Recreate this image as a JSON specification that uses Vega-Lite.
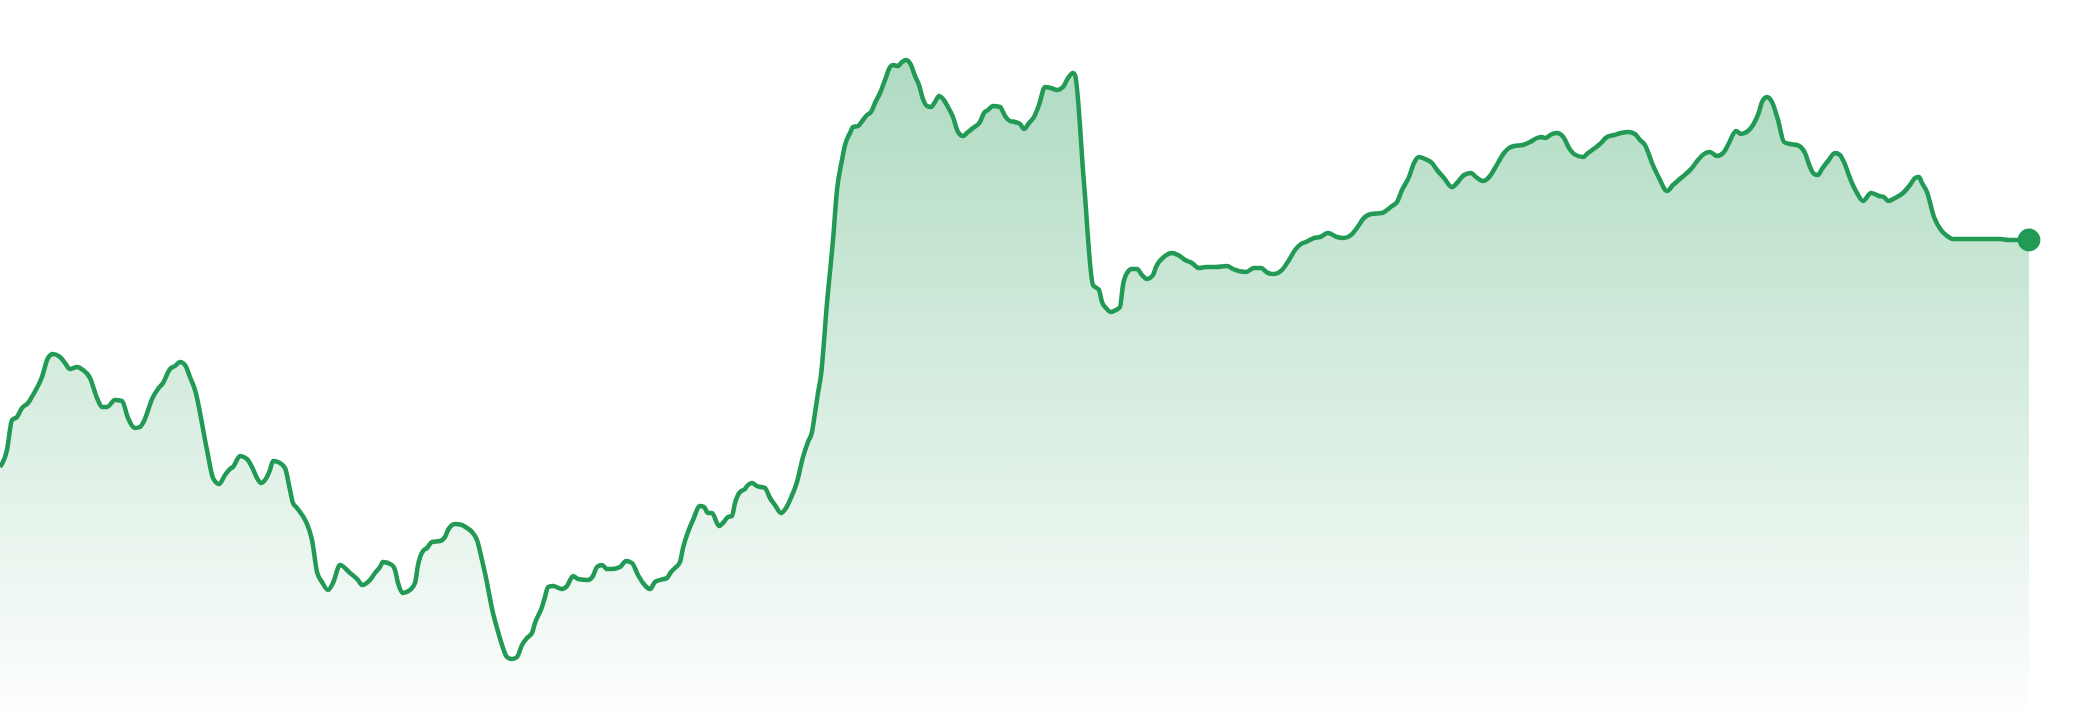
{
  "$schema": "https://vega.github.io/schema/vega-lite/v6.json",
  "width": 2029,
  "height": 707,
  "autosize": {"type": "none"},
  "padding": {"left": 0, "top": 0, "right": 51, "bottom": 13},
  "background": "white",
  "config": {"view": {"stroke": null}},
  "data": {
    "values": [
      {"t": 0, "v": 24.0}, {"t": 7, "v": 25.7}, {"t": 12, "v": 28.7}, {"t": 17, "v": 29.0},
      {"t": 22, "v": 29.9}, {"t": 28, "v": 30.4}, {"t": 33, "v": 31.2}, {"t": 42, "v": 33.0},
      {"t": 48, "v": 34.9}, {"t": 53, "v": 35.3}, {"t": 60, "v": 35.0}, {"t": 65, "v": 34.4},
      {"t": 70, "v": 33.8}, {"t": 77, "v": 34.0}, {"t": 83, "v": 33.7}, {"t": 90, "v": 32.9},
      {"t": 97, "v": 30.9}, {"t": 102, "v": 30.0}, {"t": 107, "v": 30.0}, {"t": 115, "v": 30.7},
      {"t": 122, "v": 30.6}, {"t": 128, "v": 28.9}, {"t": 135, "v": 27.9}, {"t": 140, "v": 28.0},
      {"t": 143, "v": 28.4}, {"t": 153, "v": 31.0}, {"t": 158, "v": 31.8}, {"t": 163, "v": 32.4},
      {"t": 170, "v": 33.8}, {"t": 175, "v": 34.1}, {"t": 180, "v": 34.5}, {"t": 185, "v": 34.2},
      {"t": 190, "v": 33.0}, {"t": 195, "v": 31.7}, {"t": 207, "v": 25.7}, {"t": 213, "v": 22.9},
      {"t": 219, "v": 22.3}, {"t": 225, "v": 23.2}, {"t": 230, "v": 23.8}, {"t": 233, "v": 24.0},
      {"t": 240, "v": 25.1}, {"t": 247, "v": 24.8}, {"t": 252, "v": 24.0}, {"t": 257, "v": 22.9},
      {"t": 261, "v": 22.4}, {"t": 265, "v": 22.7}, {"t": 270, "v": 23.7}, {"t": 273, "v": 24.6},
      {"t": 278, "v": 24.5}, {"t": 285, "v": 23.9}, {"t": 290, "v": 21.7}, {"t": 293, "v": 20.4},
      {"t": 297, "v": 19.9}, {"t": 312, "v": 16.7}, {"t": 317, "v": 13.5}, {"t": 322, "v": 12.5},
      {"t": 328, "v": 11.7}, {"t": 333, "v": 12.4}, {"t": 340, "v": 14.2}, {"t": 350, "v": 13.4},
      {"t": 358, "v": 12.7}, {"t": 362, "v": 12.2}, {"t": 370, "v": 12.7}, {"t": 375, "v": 13.4},
      {"t": 380, "v": 14.0}, {"t": 383, "v": 14.5}, {"t": 392, "v": 14.2}, {"t": 395, "v": 13.7},
      {"t": 398, "v": 12.4}, {"t": 403, "v": 11.4}, {"t": 410, "v": 11.7}, {"t": 415, "v": 12.4},
      {"t": 418, "v": 14.2}, {"t": 423, "v": 15.6}, {"t": 427, "v": 15.9}, {"t": 432, "v": 16.5},
      {"t": 440, "v": 16.6}, {"t": 445, "v": 17.0}, {"t": 448, "v": 17.7}, {"t": 455, "v": 18.3},
      {"t": 462, "v": 18.2}, {"t": 467, "v": 17.9}, {"t": 472, "v": 17.5}, {"t": 477, "v": 16.7},
      {"t": 482, "v": 14.7}, {"t": 485, "v": 13.4}, {"t": 493, "v": 9.4}, {"t": 497, "v": 7.9},
      {"t": 502, "v": 6.2}, {"t": 507, "v": 5.0}, {"t": 512, "v": 4.8}, {"t": 517, "v": 5.0},
      {"t": 522, "v": 6.2}, {"t": 527, "v": 6.9}, {"t": 532, "v": 7.4}, {"t": 535, "v": 8.4},
      {"t": 542, "v": 10.0}, {"t": 545, "v": 11.0}, {"t": 548, "v": 12.0}, {"t": 553, "v": 12.1},
      {"t": 562, "v": 11.8}, {"t": 567, "v": 12.1}, {"t": 573, "v": 13.1}, {"t": 578, "v": 12.8},
      {"t": 588, "v": 12.7}, {"t": 593, "v": 13.1}, {"t": 597, "v": 14.0}, {"t": 602, "v": 14.2},
      {"t": 607, "v": 13.8}, {"t": 612, "v": 13.8}, {"t": 620, "v": 14.0}, {"t": 626, "v": 14.6},
      {"t": 632, "v": 14.4}, {"t": 638, "v": 13.2}, {"t": 643, "v": 12.4}, {"t": 650, "v": 11.8},
      {"t": 655, "v": 12.5}, {"t": 660, "v": 12.7}, {"t": 667, "v": 12.9}, {"t": 671, "v": 13.5},
      {"t": 675, "v": 13.9}, {"t": 680, "v": 14.5}, {"t": 683, "v": 15.9}, {"t": 688, "v": 17.5},
      {"t": 693, "v": 18.7}, {"t": 700, "v": 20.1}, {"t": 704, "v": 20.0}, {"t": 708, "v": 19.4},
      {"t": 712, "v": 19.4}, {"t": 719, "v": 18.1}, {"t": 723, "v": 18.4}, {"t": 728, "v": 19.0},
      {"t": 732, "v": 19.1}, {"t": 735, "v": 20.4}, {"t": 740, "v": 21.5}, {"t": 745, "v": 21.8},
      {"t": 748, "v": 22.2}, {"t": 752, "v": 22.4}, {"t": 757, "v": 22.1}, {"t": 765, "v": 21.9},
      {"t": 770, "v": 20.9}, {"t": 775, "v": 20.2}, {"t": 781, "v": 19.4}, {"t": 786, "v": 19.9},
      {"t": 790, "v": 20.7}, {"t": 797, "v": 22.5}, {"t": 803, "v": 25.0}, {"t": 808, "v": 26.5},
      {"t": 812, "v": 27.5}, {"t": 815, "v": 29.4}, {"t": 818, "v": 31.4}, {"t": 821, "v": 33.2},
      {"t": 827, "v": 40.4}, {"t": 833, "v": 46.7}, {"t": 837, "v": 51.7}, {"t": 842, "v": 54.7},
      {"t": 845, "v": 56.2}, {"t": 850, "v": 57.4}, {"t": 853, "v": 58.0}, {"t": 858, "v": 58.1},
      {"t": 863, "v": 58.7}, {"t": 867, "v": 59.2}, {"t": 871, "v": 59.5}, {"t": 875, "v": 60.4},
      {"t": 880, "v": 61.4}, {"t": 885, "v": 62.7}, {"t": 890, "v": 64.0}, {"t": 893, "v": 64.2},
      {"t": 898, "v": 64.1}, {"t": 902, "v": 64.5}, {"t": 906, "v": 64.7}, {"t": 911, "v": 64.2},
      {"t": 915, "v": 63.1}, {"t": 919, "v": 62.2}, {"t": 923, "v": 60.8}, {"t": 927, "v": 60.1},
      {"t": 931, "v": 60.0}, {"t": 935, "v": 60.5}, {"t": 939, "v": 61.1}, {"t": 943, "v": 60.8},
      {"t": 948, "v": 60.0}, {"t": 953, "v": 59.0}, {"t": 958, "v": 57.5}, {"t": 963, "v": 57.1},
      {"t": 968, "v": 57.5}, {"t": 973, "v": 57.9}, {"t": 980, "v": 58.5}, {"t": 984, "v": 59.4},
      {"t": 988, "v": 59.7}, {"t": 993, "v": 60.1}, {"t": 1000, "v": 60.0}, {"t": 1005, "v": 59.1},
      {"t": 1010, "v": 58.6}, {"t": 1015, "v": 58.5}, {"t": 1020, "v": 58.3}, {"t": 1024, "v": 57.8},
      {"t": 1029, "v": 58.4}, {"t": 1034, "v": 59.0}, {"t": 1039, "v": 60.2}, {"t": 1045, "v": 62.0},
      {"t": 1051, "v": 61.9}, {"t": 1057, "v": 61.7}, {"t": 1063, "v": 62.0}, {"t": 1068, "v": 62.9},
      {"t": 1073, "v": 63.4}, {"t": 1075, "v": 63.2}, {"t": 1084, "v": 52.4}, {"t": 1093, "v": 42.2},
      {"t": 1099, "v": 41.7}, {"t": 1102, "v": 40.5}, {"t": 1106, "v": 39.9}, {"t": 1111, "v": 39.5},
      {"t": 1116, "v": 39.7}, {"t": 1120, "v": 40.0}, {"t": 1123, "v": 42.2}, {"t": 1127, "v": 43.4},
      {"t": 1132, "v": 43.8}, {"t": 1137, "v": 43.8}, {"t": 1142, "v": 43.2}, {"t": 1147, "v": 42.8},
      {"t": 1153, "v": 43.2}, {"t": 1156, "v": 44.0}, {"t": 1165, "v": 45.1}, {"t": 1172, "v": 45.4},
      {"t": 1178, "v": 45.2}, {"t": 1185, "v": 44.7}, {"t": 1192, "v": 44.4}, {"t": 1199, "v": 43.9},
      {"t": 1206, "v": 44.0}, {"t": 1216, "v": 44.0}, {"t": 1227, "v": 44.1}, {"t": 1233, "v": 43.8},
      {"t": 1246, "v": 43.5}, {"t": 1254, "v": 43.9}, {"t": 1261, "v": 43.9}, {"t": 1268, "v": 43.4},
      {"t": 1274, "v": 43.3}, {"t": 1282, "v": 43.7}, {"t": 1289, "v": 44.7}, {"t": 1295, "v": 45.7},
      {"t": 1301, "v": 46.3}, {"t": 1306, "v": 46.5}, {"t": 1314, "v": 46.9}, {"t": 1320, "v": 47.0},
      {"t": 1328, "v": 47.4}, {"t": 1337, "v": 47.0}, {"t": 1344, "v": 46.9}, {"t": 1351, "v": 47.2},
      {"t": 1359, "v": 48.2}, {"t": 1363, "v": 48.8}, {"t": 1371, "v": 49.3}, {"t": 1382, "v": 49.4},
      {"t": 1387, "v": 49.7}, {"t": 1392, "v": 50.1}, {"t": 1397, "v": 50.5}, {"t": 1402, "v": 51.7},
      {"t": 1409, "v": 53.0}, {"t": 1414, "v": 54.4}, {"t": 1419, "v": 55.0}, {"t": 1425, "v": 54.8},
      {"t": 1432, "v": 54.4}, {"t": 1437, "v": 53.7}, {"t": 1444, "v": 52.9}, {"t": 1452, "v": 52.0},
      {"t": 1457, "v": 52.4}, {"t": 1464, "v": 53.2}, {"t": 1471, "v": 53.4}, {"t": 1476, "v": 53.0},
      {"t": 1483, "v": 52.6}, {"t": 1490, "v": 53.1}, {"t": 1495, "v": 53.9}, {"t": 1504, "v": 55.4},
      {"t": 1509, "v": 55.9}, {"t": 1514, "v": 56.1}, {"t": 1523, "v": 56.2}, {"t": 1530, "v": 56.5},
      {"t": 1537, "v": 56.9}, {"t": 1542, "v": 57.0}, {"t": 1545, "v": 56.9}, {"t": 1552, "v": 57.3},
      {"t": 1557, "v": 57.4}, {"t": 1564, "v": 56.9}, {"t": 1569, "v": 55.9}, {"t": 1574, "v": 55.3},
      {"t": 1583, "v": 55.0}, {"t": 1588, "v": 55.4}, {"t": 1595, "v": 55.9}, {"t": 1600, "v": 56.3},
      {"t": 1607, "v": 57.0}, {"t": 1614, "v": 57.2}, {"t": 1621, "v": 57.4}, {"t": 1628, "v": 57.5},
      {"t": 1635, "v": 57.3}, {"t": 1640, "v": 56.7}, {"t": 1645, "v": 56.2}, {"t": 1648, "v": 55.5},
      {"t": 1652, "v": 54.4}, {"t": 1659, "v": 52.9}, {"t": 1667, "v": 51.6}, {"t": 1673, "v": 52.2},
      {"t": 1681, "v": 52.9}, {"t": 1692, "v": 53.9}, {"t": 1698, "v": 54.7}, {"t": 1704, "v": 55.3},
      {"t": 1710, "v": 55.5}, {"t": 1717, "v": 55.1}, {"t": 1724, "v": 55.5}, {"t": 1729, "v": 56.4},
      {"t": 1736, "v": 57.6}, {"t": 1741, "v": 57.3}, {"t": 1748, "v": 57.6}, {"t": 1753, "v": 58.2},
      {"t": 1759, "v": 59.5}, {"t": 1762, "v": 60.5}, {"t": 1767, "v": 61.0}, {"t": 1772, "v": 60.5},
      {"t": 1778, "v": 58.7}, {"t": 1784, "v": 56.5}, {"t": 1790, "v": 56.3}, {"t": 1797, "v": 56.2},
      {"t": 1805, "v": 55.4}, {"t": 1810, "v": 54.0}, {"t": 1814, "v": 53.3}, {"t": 1818, "v": 53.2},
      {"t": 1822, "v": 53.8}, {"t": 1828, "v": 54.6}, {"t": 1835, "v": 55.4}, {"t": 1840, "v": 55.2},
      {"t": 1843, "v": 54.7}, {"t": 1852, "v": 52.4}, {"t": 1857, "v": 51.4}, {"t": 1863, "v": 50.6},
      {"t": 1871, "v": 51.4}, {"t": 1879, "v": 51.1}, {"t": 1884, "v": 51.0}, {"t": 1888, "v": 50.6},
      {"t": 1895, "v": 50.9}, {"t": 1903, "v": 51.4}, {"t": 1910, "v": 52.2}, {"t": 1915, "v": 52.9},
      {"t": 1919, "v": 53.0}, {"t": 1922, "v": 52.4}, {"t": 1927, "v": 51.5}, {"t": 1934, "v": 49.0},
      {"t": 1941, "v": 47.7}, {"t": 1946, "v": 47.2}, {"t": 1953, "v": 46.8}, {"t": 1970, "v": 46.8},
      {"t": 1988, "v": 46.8}, {"t": 2001, "v": 46.8}, {"t": 2008, "v": 46.7}, {"t": 2029, "v": 46.7}
    ]
  },
  "encoding": {
    "x": {
      "field": "t",
      "type": "quantitative",
      "scale": {"domain": [0, 2029], "nice": false, "zero": false},
      "axis": null
    },
    "y": {
      "field": "v",
      "type": "quantitative",
      "scale": {"domain": [0, 70.7], "nice": false},
      "axis": null
    }
  },
  "layer": [
    {
      "mark": {
        "type": "area",
        "interpolate": "monotone",
        "color": {
          "gradient": "linear",
          "x1": 0, "y1": 0, "x2": 0, "y2": 1,
          "stops": [
            {"offset": 0, "color": "rgba(34,154,84,0.36)"},
            {"offset": 1, "color": "rgba(34,154,84,0.01)"}
          ]
        }
      }
    },
    {
      "mark": {"type": "line", "interpolate": "monotone", "color": "#229a55", "strokeWidth": 4.5}
    },
    {
      "transform": [{"filter": "datum.t == 2029"}],
      "mark": {"type": "circle", "size": 520, "color": "#229a55", "opacity": 1}
    }
  ]
}
